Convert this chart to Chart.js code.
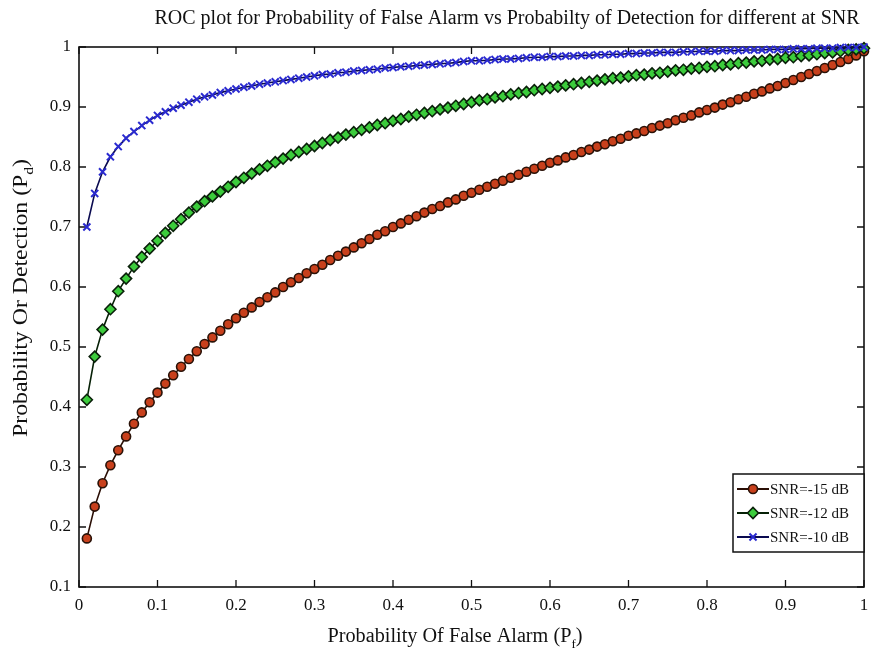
<!DOCTYPE html>
<html>
<head>
<meta charset="utf-8">
<script src="https://cdn.jsdelivr.net/npm/chart.js@4.4.1/dist/chart.umd.min.js"></script>
<style>
  html, body { margin: 0; padding: 0; background: #fff; }
  #wrap { width: 872px; height: 659px; }
</style>
</head>
<body>
<div id="wrap"><canvas id="graficoRoc" width="872" height="659"></canvas></div>
<script>
// Probability of false alarm (x) for every marker
const pf = [
  0.01, 0.02, 0.03, 0.04, 0.05, 0.06, 0.07, 0.08, 0.09, 0.10,
  0.11, 0.12, 0.13, 0.14, 0.15, 0.16, 0.17, 0.18, 0.19, 0.20,
  0.21, 0.22, 0.23, 0.24, 0.25, 0.26, 0.27, 0.28, 0.29, 0.30,
  0.31, 0.32, 0.33, 0.34, 0.35, 0.36, 0.37, 0.38, 0.39, 0.40,
  0.41, 0.42, 0.43, 0.44, 0.45, 0.46, 0.47, 0.48, 0.49, 0.50,
  0.51, 0.52, 0.53, 0.54, 0.55, 0.56, 0.57, 0.58, 0.59, 0.60,
  0.61, 0.62, 0.63, 0.64, 0.65, 0.66, 0.67, 0.68, 0.69, 0.70,
  0.71, 0.72, 0.73, 0.74, 0.75, 0.76, 0.77, 0.78, 0.79, 0.80,
  0.81, 0.82, 0.83, 0.84, 0.85, 0.86, 0.87, 0.88, 0.89, 0.90,
  0.91, 0.92, 0.93, 0.94, 0.95, 0.96, 0.97, 0.98, 0.99, 1.00
];

// Probability of detection, SNR = -15 dB
const pdSnr15 = [
  0.181, 0.234, 0.273, 0.303, 0.328, 0.351, 0.372, 0.391, 0.408, 0.424,
  0.439, 0.453, 0.467, 0.480, 0.493, 0.505, 0.516, 0.527, 0.538, 0.548,
  0.557, 0.566, 0.575, 0.583, 0.591, 0.600, 0.608, 0.615, 0.623, 0.630,
  0.637, 0.645, 0.652, 0.659, 0.666, 0.673, 0.680, 0.687, 0.693, 0.700,
  0.706, 0.712, 0.718, 0.724, 0.730, 0.735, 0.741, 0.746, 0.752, 0.757,
  0.762, 0.767, 0.772, 0.777, 0.782, 0.787, 0.792, 0.797, 0.802, 0.807,
  0.811, 0.816, 0.820, 0.825, 0.829, 0.834, 0.838, 0.843, 0.847, 0.852,
  0.856, 0.860, 0.865, 0.869, 0.873, 0.878, 0.882, 0.886, 0.891, 0.895,
  0.899, 0.904, 0.908, 0.913, 0.917, 0.922, 0.926, 0.931, 0.935, 0.940,
  0.945, 0.950, 0.955, 0.960, 0.965, 0.970, 0.975, 0.980, 0.986, 0.993
];

// Probability of detection, SNR = -12 dB
const pdSnr12 = [
  0.412, 0.484, 0.529, 0.563, 0.593, 0.614, 0.634, 0.650, 0.664, 0.677,
  0.690, 0.702, 0.713, 0.724, 0.734, 0.743, 0.751, 0.759, 0.767, 0.775,
  0.782, 0.789, 0.796, 0.802, 0.808, 0.814, 0.820, 0.825, 0.830, 0.835,
  0.840, 0.845, 0.849, 0.854, 0.858, 0.862, 0.866, 0.870, 0.873, 0.877,
  0.880, 0.884, 0.887, 0.890, 0.893, 0.896, 0.899, 0.902, 0.905, 0.908,
  0.911, 0.913, 0.916, 0.918, 0.921, 0.923, 0.925, 0.928, 0.930, 0.932,
  0.934, 0.936, 0.938, 0.940, 0.942, 0.944, 0.946, 0.948, 0.949, 0.951,
  0.953, 0.954, 0.956, 0.957, 0.959, 0.961, 0.962, 0.964, 0.965, 0.967,
  0.968, 0.970, 0.971, 0.973, 0.974, 0.976, 0.977, 0.979, 0.980, 0.982,
  0.983, 0.985, 0.986, 0.988, 0.990, 0.991, 0.993, 0.995, 0.996, 0.998
];

// Probability of detection, SNR = -10 dB
const pdSnr10 = [
  0.700, 0.756, 0.792, 0.817, 0.834, 0.848, 0.859, 0.869, 0.878, 0.886,
  0.892, 0.898, 0.903, 0.908, 0.913, 0.917, 0.920, 0.924, 0.927, 0.930,
  0.933, 0.935, 0.938, 0.940, 0.942, 0.944, 0.946, 0.948, 0.950, 0.952,
  0.954, 0.955, 0.957, 0.958, 0.960, 0.961, 0.962, 0.963, 0.965, 0.966,
  0.967, 0.968, 0.969, 0.970, 0.971, 0.972, 0.973, 0.974, 0.976, 0.977,
  0.977, 0.978, 0.979, 0.980, 0.980, 0.981, 0.982, 0.983, 0.983, 0.984,
  0.984, 0.985, 0.985, 0.986, 0.986, 0.987, 0.987, 0.988, 0.988, 0.989,
  0.989, 0.990, 0.990, 0.991, 0.991, 0.991, 0.992, 0.992, 0.993, 0.993,
  0.993, 0.994, 0.994, 0.994, 0.995, 0.995, 0.995, 0.996, 0.996, 0.996,
  0.997, 0.997, 0.997, 0.998, 0.998, 0.998, 0.999, 0.999, 0.999, 1.000
];

const seriesNames = ['SNR=-15 dB', 'SNR=-12 dB', 'SNR=-10 dB'];
const chartTitle = 'ROC plot for Probability of False Alarm vs Probabilty of Detection for different at SNR';
const xTitle = ['Probability Of False Alarm (P', 'f', ')'];
const yTitle = ['Probability Or Detection (P', 'd', ')'];

const serif = '"Liberation Serif", "Times New Roman", serif';

const toPoints = (ys) => pf.map((x, i) => ({ x: x, y: ys[i] }));
const fmtTick = (v) => String(Math.round(v * 10) / 10);

// texto con subindice: [antes, sub, despues], estirado a un ancho si se pide
function drawSubText(ctx, parts, size, cx, cy, ancho) {
  const subSize = Math.round(size * 0.65);
  ctx.font = size + 'px ' + serif;
  const w0 = ctx.measureText(parts[0]).width;
  const w2 = ctx.measureText(parts[2]).width;
  ctx.font = subSize + 'px ' + serif;
  const w1 = ctx.measureText(parts[1]).width;
  const total = w0 + w1 + w2;
  const k = ancho ? ancho / total : 1;
  ctx.save();
  ctx.translate(cx, cy);
  ctx.scale(k, 1);
  let x = -total / 2;
  ctx.textAlign = 'left';
  ctx.textBaseline = 'alphabetic';
  ctx.font = size + 'px ' + serif;
  ctx.fillText(parts[0], x, 0);
  x += w0;
  ctx.font = subSize + 'px ' + serif;
  ctx.fillText(parts[1], x, size * 0.3);
  x += w1;
  ctx.font = size + 'px ' + serif;
  ctx.fillText(parts[2], x, 0);
  ctx.restore();
}

const marcoPlugin = {
  id: 'marco',
  beforeDatasetsDraw(chart) {
    const { ctx, chartArea: a, scales } = chart;
    ctx.save();
    ctx.strokeStyle = '#111';
    ctx.lineWidth = 1.6;
    ctx.strokeRect(a.left, a.top, a.right - a.left, a.bottom - a.top);
    ctx.lineWidth = 1.3;
    const len = 7;
    scales.x.ticks.forEach((t) => {
      const px = scales.x.getPixelForValue(t.value);
      ctx.beginPath();
      ctx.moveTo(px, a.bottom); ctx.lineTo(px, a.bottom - len);
      ctx.moveTo(px, a.top); ctx.lineTo(px, a.top + len);
      ctx.stroke();
    });
    scales.y.ticks.forEach((t) => {
      const py = scales.y.getPixelForValue(t.value);
      ctx.beginPath();
      ctx.moveTo(a.left, py); ctx.lineTo(a.left + len, py);
      ctx.moveTo(a.right, py); ctx.lineTo(a.right - len, py);
      ctx.stroke();
    });
    ctx.restore();
  },
  afterDraw(chart) {
    const { ctx, chartArea: a } = chart;
    ctx.save();
    ctx.fillStyle = '#111';

    // titulo
    ctx.font = '20px ' + serif;
    ctx.textAlign = 'center';
    ctx.textBaseline = 'alphabetic';
    ctx.fillText(chartTitle, 507, 24);

    // titulos de ejes
    drawSubText(ctx, xTitle, 20, 455, 642, 255);
    ctx.save();
    ctx.translate(27, 298);
    ctx.rotate(-Math.PI / 2);
    drawSubText(ctx, yTitle, 20, 0, 0, 278);
    ctx.restore();

    // leyenda dentro del area
    const bw = 131, bh = 78;
    const bx = a.right - bw, by = a.bottom - 113;
    ctx.fillStyle = '#fff';
    ctx.fillRect(bx, by, bw, bh);
    ctx.strokeStyle = '#111';
    ctx.lineWidth = 1.5;
    ctx.strokeRect(bx, by, bw, bh);
    chart.data.datasets.forEach((ds, i) => {
      const y = by + 15 + i * 24;
      ctx.strokeStyle = ds.borderColor;
      ctx.lineWidth = 2;
      ctx.beginPath();
      ctx.moveTo(bx + 4, y); ctx.lineTo(bx + 36, y);
      ctx.stroke();
      ctx.fillStyle = ds.pointBackgroundColor;
      ctx.strokeStyle = ds.pointBorderColor;
      ctx.lineWidth = ds.pointBorderWidth;
      Chart.helpers.drawPoint(ctx, {
        pointStyle: ds.pointStyle,
        radius: ds.pointRadius,
        borderWidth: ds.pointBorderWidth,
        rotation: 0
      }, bx + 20, y);
      ctx.fillStyle = '#111';
      ctx.font = '15px ' + serif;
      ctx.textAlign = 'left';
      ctx.textBaseline = 'middle';
      ctx.fillText(ds.label, bx + 37, y + 1);
    });
    ctx.restore();
  }
};

const ctx = document.getElementById('graficoRoc');

new Chart(ctx, {
  type: 'line',
  data: {
    datasets: [
      {
        label: seriesNames[0],
        data: toPoints(pdSnr15),
        borderColor: '#2a0e05',
        borderWidth: 1.6,
        pointStyle: 'circle',
        pointRadius: 4.5,
        pointBackgroundColor: '#c8401c',
        pointBorderColor: '#2a1208',
        pointBorderWidth: 1.6,
        order: 2,
        clip: false
      },
      {
        label: seriesNames[1],
        data: toPoints(pdSnr12),
        borderColor: '#062006',
        borderWidth: 1.6,
        pointStyle: 'rectRot',
        pointRadius: 5.5,
        pointBackgroundColor: '#3ccc3c',
        pointBorderColor: '#0a200a',
        pointBorderWidth: 1.6,
        order: 1,
        clip: false
      },
      {
        label: seriesNames[2],
        data: toPoints(pdSnr10),
        borderColor: '#0a0a50',
        borderWidth: 1.6,
        pointStyle: 'crossRot',
        pointRadius: 5,
        pointBackgroundColor: '#2a2ad0',
        pointBorderColor: '#2a2ad0',
        pointBorderWidth: 2,
        order: 0,
        clip: false
      }
    ]
  },
  options: {
    responsive: false,
    animation: false,
    layout: { padding: { top: 47, right: 8, left: 0, bottom: 0 } },
    plugins: {
      legend: { display: false },
      title: { display: false },
      tooltip: { enabled: false }
    },
    elements: { line: { tension: 0 } },
    scales: {
      x: {
        type: 'linear',
        min: 0,
        max: 1,
        grid: { display: false, drawTicks: false },
        border: { display: false },
        ticks: {
          stepSize: 0.1,
          color: '#111',
          padding: 8,
          maxRotation: 0,
          font: { family: serif, size: 17 },
          callback: fmtTick
        },
        afterFit: (s) => {
          s.height = 72;
          s.paddingRight = 0;
          s.paddingLeft = 0;
        }
      },
      y: {
        min: 0.1,
        max: 1,
        grid: { display: false, drawTicks: false },
        border: { display: false },
        ticks: {
          stepSize: 0.1,
          color: '#111',
          padding: 8,
          font: { family: serif, size: 17 },
          callback: fmtTick
        },
        afterFit: (s) => {
          s.width = 79;
          s.paddingTop = 0;
          s.paddingBottom = 0;
        }
      }
    }
  },
  plugins: [marcoPlugin]
});
</script>
</body>
</html>
